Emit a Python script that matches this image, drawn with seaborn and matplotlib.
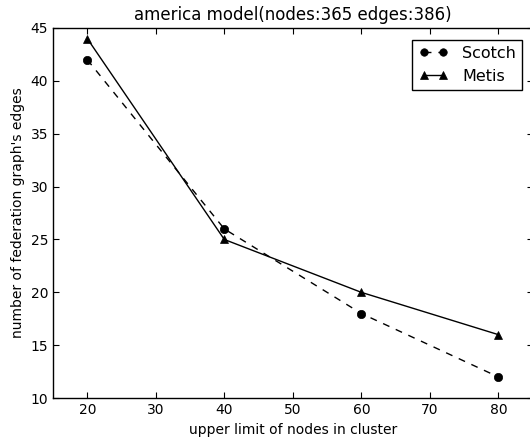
import pandas as pd
import matplotlib
matplotlib.use("Agg")
import matplotlib.pyplot as plt
import seaborn as sns

limits = [20, 40, 60, 80]
scotch = [42, 26, 18, 12]
metis = [44, 25, 20, 16]

df = pd.DataFrame({
    "limit": limits * 2,
    "edges": scotch + metis,
    "tool": ["Scotch"] * 4 + ["Metis"] * 4,
})

sns.set_style("ticks")
plt.rcParams.update({
    "xtick.direction": "in", "ytick.direction": "in",
    "xtick.top": True, "ytick.right": True,
    "xtick.major.size": 4, "ytick.major.size": 4,
    "axes.linewidth": 1.0, "axes.edgecolor": "black",
    "xtick.color": "black", "ytick.color": "black",
    "text.color": "black", "axes.labelcolor": "black",
    "font.family": ["DejaVu Sans"],
})

fig = plt.figure(figsize=(5.3, 4.37), dpi=100)
ax = fig.add_axes([0.1, 0.089, 0.905, 0.847])
ax.spines["right"].set_visible(False)

sns.lineplot(data=df[df.tool == "Scotch"], x="limit", y="edges", ax=ax,
             color="black", linestyle=(0, (5, 5)), marker="o", markersize=6,
             markeredgecolor="black", markeredgewidth=0.5, linewidth=1,
             label="Scotch")
sns.lineplot(data=df[df.tool == "Metis"], x="limit", y="edges", ax=ax,
             color="black", linestyle="-", marker="^", markersize=6,
             markeredgecolor="black", markeredgewidth=0.5, linewidth=1,
             label="Metis")

ax.set_xlim(15, 85)
ax.set_ylim(10, 45)
ax.set_xticks([20, 30, 40, 50, 60, 70, 80])
ax.set_yticks([10, 15, 20, 25, 30, 35, 40, 45])
ax.tick_params(labelsize=10)
ax.set_xlabel("upper limit of nodes in cluster", fontsize=10)
ax.set_ylabel("number of federation graph's edges", fontsize=10)
ax.set_title("america model(nodes:365 edges:386)", fontsize=12)

leg = ax.legend(loc="upper right", numpoints=2, fontsize=11.5, fancybox=False,
                framealpha=1, edgecolor="black", handlelength=1.8,
                borderpad=0.4, handletextpad=0.9, labelspacing=0.5,
                markerscale=0.9, bbox_to_anchor=(0.995, 0.99))
leg.get_frame().set_linewidth(1.0)

fig.savefig("out.png", dpi=100)
